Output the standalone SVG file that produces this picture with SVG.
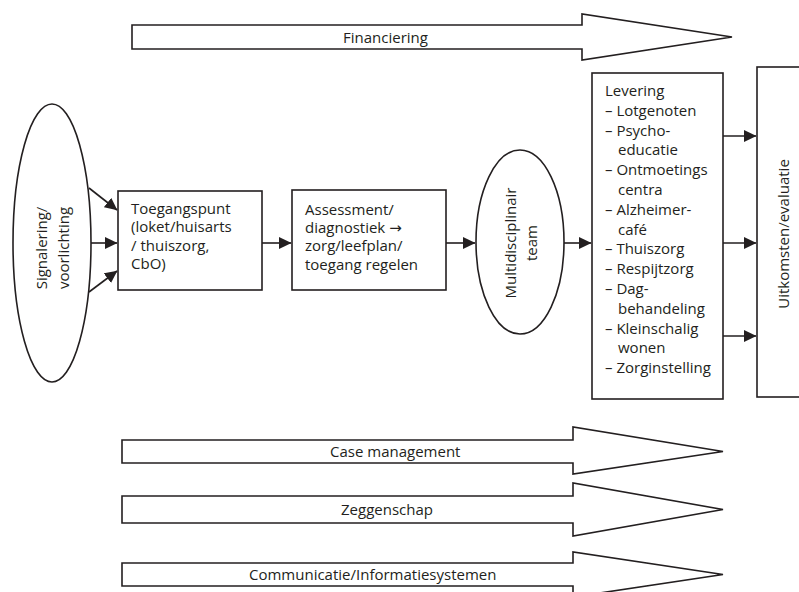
<svg xmlns="http://www.w3.org/2000/svg" width="799" height="592" viewBox="0 0 799 592">
<defs>
<style>
.s{fill:#fff;stroke:#231f20;stroke-width:1.6}
.t{font-family:"Open Sans","Noto Sans",sans-serif;font-size:15px;fill:#231f20}
.c{stroke:#231f20;stroke-width:1.6;fill:none}
</style>
<marker id="ah" markerUnits="userSpaceOnUse" markerWidth="13" markerHeight="13" viewBox="0 0 13 13" refX="12" refY="6.5" orient="auto">
<path d="M0,0.5 L12.5,6.5 L0,12.5 Z" fill="#231f20"/>
</marker>
</defs>
<rect width="799" height="592" fill="#fff"/>

<g id="financiering">
<path class="s" d="M132,25 H582 V14 L732,37 L582,60 V49 H132 Z"/>
<text class="t" x="343" y="42.5">Financiering</text>
</g>

<g id="casemanagement">
<path class="s" d="M122,440 H573 V427 L723,451.5 L573,474 V463 H122 Z"/>
<text class="t" x="330" y="457">Case management</text>
</g>

<g id="zeggenschap">
<path class="s" d="M122,496 H573 V483 L723,509.5 L573,536 V523 H122 Z"/>
<text class="t" x="341" y="515">Zeggenschap</text>
</g>

<g id="communicatie">
<path class="s" d="M122,563 H573 V552 L723,574.5 L573,597 V586 H122 Z"/>
<text class="t" x="249" y="580">Communicatie/Informatiesystemen</text>
</g>

<g id="signalering">
<ellipse class="s" cx="52" cy="243" rx="39" ry="139"/>
<text class="t" text-anchor="middle" transform="translate(47,248) rotate(-90)">Signalering/</text>
<text class="t" text-anchor="middle" transform="translate(69,248) rotate(-90)">voorlichting</text>
</g>

<g id="toegangspunt">
<rect class="s" x="118" y="191" width="144" height="99"/>
<text class="t" x="131" y="214">Toegangspunt</text>
<text class="t" x="131" y="232.4">(loket/huisarts</text>
<text class="t" x="131" y="250.8">/ thuiszorg,</text>
<text class="t" x="131" y="269.2">CbO)</text>
</g>

<g id="assessment">
<rect class="s" x="292" y="190" width="154" height="100"/>
<text class="t" x="305" y="214.5">Assessment/</text>
<text class="t" x="305" y="232.9">diagnostiek <tspan font-family="'DejaVu Sans',sans-serif" font-size="15">→</tspan></text>
<text class="t" x="305" y="251.3">zorg/leefplan/</text>
<text class="t" x="305" y="269.7">toegang regelen</text>
</g>

<g id="multidisciplinair">
<ellipse class="s" cx="520" cy="242" rx="44" ry="92"/>
<text class="t" text-anchor="middle" transform="translate(516,243) rotate(-90)">Multidisciplinair</text>
<text class="t" text-anchor="middle" transform="translate(536.5,243) rotate(-90)">team</text>
</g>

<g id="levering">
<rect class="s" x="592" y="73" width="131" height="326"/>
<text class="t" x="605" y="96">Levering</text>
<text class="t" x="605" y="115.8">– Lotgenoten</text>
<text class="t" x="605" y="135.6">– Psycho-</text>
<text class="t" x="618" y="155.4">educatie</text>
<text class="t" x="605" y="175.2">– Ontmoetings</text>
<text class="t" x="618" y="195">centra</text>
<text class="t" x="605" y="214.8">– Alzheimer-</text>
<text class="t" x="618" y="234.6">café</text>
<text class="t" x="605" y="254.4">– Thuiszorg</text>
<text class="t" x="605" y="274.2">– Respijtzorg</text>
<text class="t" x="605" y="294">– Dag-</text>
<text class="t" x="618" y="313.8">behandeling</text>
<text class="t" x="605" y="333.6">– Kleinschalig</text>
<text class="t" x="618" y="353.4">wonen</text>
<text class="t" x="605" y="373.2">– Zorginstelling</text>
</g>

<g id="uitkomsten">
<rect class="s" x="757" y="67" width="60" height="330"/>
<text class="t" text-anchor="middle" transform="translate(789,234) rotate(-90)">Uitkomsten/evaluatie</text>
</g>

<g id="connectors">
<line class="c" x1="89" y1="188" x2="117" y2="210" marker-end="url(#ah)"/>
<line class="c" x1="91" y1="243" x2="117" y2="243" marker-end="url(#ah)"/>
<line class="c" x1="89" y1="292" x2="117" y2="271" marker-end="url(#ah)"/>
<line class="c" x1="262" y1="243" x2="291" y2="243" marker-end="url(#ah)"/>
<line class="c" x1="446" y1="243" x2="475" y2="243" marker-end="url(#ah)"/>
<line class="c" x1="564" y1="243" x2="591" y2="243" marker-end="url(#ah)"/>
<line class="c" x1="723" y1="136" x2="756" y2="136" marker-end="url(#ah)"/>
<line class="c" x1="723" y1="243" x2="756" y2="243" marker-end="url(#ah)"/>
<line class="c" x1="723" y1="336" x2="756" y2="336" marker-end="url(#ah)"/>
</g>
</svg>
